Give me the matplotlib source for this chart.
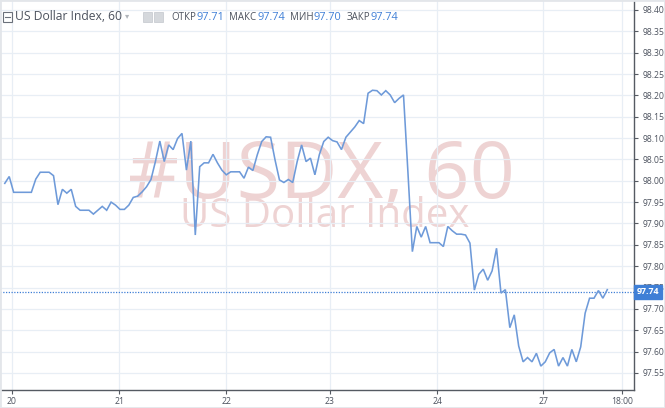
import matplotlib
matplotlib.use("Agg")
import matplotlib.pyplot as plt
import matplotlib.transforms as mtransforms
from matplotlib.patches import Rectangle

# ---------------- data ----------------
values = [
    97.994, 98.010, 97.973, 97.973, 97.973, 97.973, 97.973, 98.004, 98.020, 98.020,
    98.020, 98.012, 97.944, 97.980, 97.971, 97.980, 97.940, 97.931, 97.931, 97.931,
    97.922, 97.931, 97.940, 97.931, 97.950, 97.943, 97.933, 97.933, 97.943, 97.961,
    97.964, 97.974, 97.986, 98.003, 98.045, 98.093, 98.045, 98.084, 98.073, 98.099,
    98.111, 98.025, 98.093, 97.873, 98.033, 98.042, 98.042, 98.062, 98.042, 98.025,
    98.014, 98.021, 98.021, 98.021, 98.006, 98.032, 98.024, 98.061, 98.092, 98.103,
    98.102, 98.049, 98.002, 97.996, 98.003, 97.996, 98.045, 98.084, 98.045, 98.053,
    98.014, 98.061, 98.092, 98.102, 98.094, 98.091, 98.073, 98.102, 98.114, 98.126,
    98.141, 98.134, 98.205, 98.212, 98.211, 98.201, 98.211, 98.201, 98.183, 98.193,
    98.201, 98.020, 97.834, 97.893, 97.868, 97.893, 97.855, 97.855, 97.855, 97.846,
    97.893, 97.883, 97.875, 97.875, 97.873, 97.854, 97.744, 97.781, 97.793, 97.767,
    97.789, 97.842, 97.737, 97.745, 97.656, 97.686, 97.613, 97.576, 97.586, 97.576,
    97.596, 97.566, 97.576, 97.597, 97.605, 97.566, 97.586, 97.566, 97.605, 97.576,
    97.611, 97.690, 97.725, 97.725, 97.743, 97.725, 97.745,
]
bars = list(range(len(values)))

x_tick_labels = ["20", "21", "22", "23", "24", "27", "18:00"]
x_tick_bars = [1.6, 25.8, 50.0, 73.4, 97.6, 121.5, 139.3]

y_ticks = [98.40, 98.35, 98.30, 98.25, 98.20, 98.15, 98.10, 98.05, 98.00, 97.95,
           97.90, 97.85, 97.80, 97.75, 97.70, 97.65, 97.60, 97.55]

symbol = "US Dollar Index, 60"
ohlc_labels = ["ОТКР", "МАКС", "МИН", "ЗАКР"]
ohlc_values = ["97.71", "97.74", "97.70", "97.74"]
last_price = 97.74
watermark_big = "#USDX, 60"
watermark_small = "US Dollar Index"

# ---------------- styling ----------------
W, H = 665, 408
LINE = "#6e9ad9"
BLUE = "#3f7fd6"
GRID = "#e8eef5"
TXT = "#4c525e"
AXC = "#555a62"
WM = "#eed3d3"

plt.rcParams["font.family"] = ["Open Sans", "DejaVu Sans"]

fig = plt.figure(figsize=(W / 100, H / 100), dpi=100)
fig.patch.set_facecolor("white")

left_px, right_px, top_px, bottom_px = 0, 634, 0, 390
ax = fig.add_axes([left_px / W, 1 - bottom_px / H,
                   (right_px - left_px) / W, (bottom_px - top_px) / H])
ax.set_facecolor("white")

ax.set_xlim(-1.08, 142.03)
ax.set_ylim(97.510, 98.4234)

# watermark
ax.text(0.507, 0.545, watermark_big, transform=ax.transAxes, ha="center", va="center",
        fontsize=57, color=WM, zorder=0.5)
ax.text(0.512, 0.445, watermark_small, transform=ax.transAxes, ha="center", va="center",
        fontsize=29, color=WM, zorder=0.5)

# grid
ax.set_yticks(y_ticks)
ax.set_xticks(x_tick_bars)
ax.set_xticklabels(x_tick_labels)
ax.grid(True, color=GRID, linewidth=0.9, zorder=0)
ax.set_axisbelow(True)

# series
ax.plot(bars, values, color=LINE, linewidth=1.15, zorder=3, solid_joinstyle="miter")

# last price dotted line
ax.axhline(last_price, color=BLUE, linewidth=0.9, linestyle=(0, (1, 1.2)), zorder=2)

# axes appearance
ax.yaxis.tick_right()
ax.set_yticklabels([f"{v:.2f}" for v in y_ticks])
for s in ["left", "top"]:
    ax.spines[s].set_visible(False)
for s in ["right", "bottom"]:
    ax.spines[s].set_color(AXC)
    ax.spines[s].set_linewidth(1.0)
ax.tick_params(axis="y", direction="out", length=3, width=0.8, color=AXC,
               labelsize=6.2, labelcolor=TXT, pad=3)
ax.tick_params(axis="x", direction="out", length=3, width=0.8, color=AXC,
               labelsize=6.2, labelcolor=TXT, pad=2)

# last price label
trans = mtransforms.blended_transform_factory(ax.transAxes, ax.transData)
ax.text(1.004, last_price, f"{last_price:.2f}", transform=trans, ha="left", va="center",
        fontsize=6.4, color="white", fontweight="bold", zorder=10, clip_on=False,
        bbox=dict(boxstyle="square,pad=0.28", facecolor=BLUE, edgecolor=BLUE))

# header legend
fig.canvas.draw()
renderer = fig.canvas.get_renderer()

def put(x_px, s, color, size, weight="normal", gap=0):
    t = fig.text(x_px / W, 1 - 17 / H, s, ha="left", va="center", fontsize=size,
                 color=color, fontweight=weight)
    bb = t.get_window_extent(renderer=renderer)
    return x_px + bb.width + gap

# collapse box icon
fig.patches.append(Rectangle((3 / W, 1 - 22 / H), 9 / W, 10 / H, transform=fig.transFigure,
                             fill=False, edgecolor="#6b717b", linewidth=0.8))
fig.lines.append(plt.Line2D([5 / W, 10 / W], [1 - 17 / H, 1 - 17 / H],
                            transform=fig.transFigure, color="#6b717b", linewidth=0.8))
x = put(15, symbol, TXT, 8.7, gap=3)
x = put(x, "▾", "#b0b4ba", 6, gap=14)
# settings icons
for i in range(2):
    fig.patches.append(Rectangle(((x + i * 11) / W, 1 - 22 / H), 9 / W, 10 / H,
                                 transform=fig.transFigure, facecolor="#d5d8dc",
                                 edgecolor="#c3c7cc", linewidth=0.5))
x += 28
for lab, val in zip(ohlc_labels, ohlc_values):
    x = put(x, lab, TXT, 7.0, gap=0.5)
    x = put(x, val, BLUE, 7.9, gap=5)

# light outer frame
fig.patches.append(Rectangle((0, 0), 1, 1, transform=fig.transFigure, fill=False,
                             edgecolor="#e3e6ea", linewidth=2))

fig.savefig("out.png", dpi=100, facecolor="white")
